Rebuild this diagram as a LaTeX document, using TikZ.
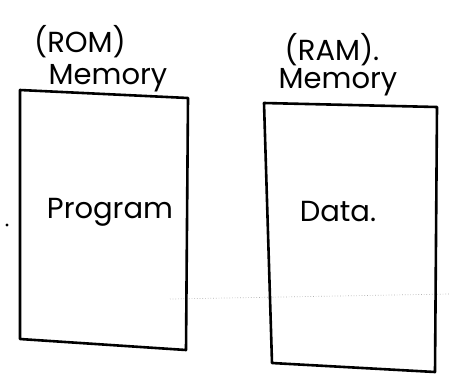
\documentclass[tikz,border=0pt]{standalone}
\usepackage{fontspec}
\setmainfont{Poppins}
\begin{document}
\begin{tikzpicture}[x=1pt,y=-1pt,
  lbl/.style={font=\fontsize{29}{32}\selectfont, inner sep=0pt, anchor=center},
  boxline/.style={line width=2.6pt, line join=round, line cap=round, black}]
\useasboundingbox (0,0) rectangle (449,381);
\fill[white] (0,0) rectangle (449,381);
% scan artefact dotted line
\draw[gray!60, line width=0.7pt, dotted] (170,299) -- (449,294);
% left box (ROM)
\coordinate (a1) at (20,90);
\coordinate (a2) at (188,98);
\coordinate (a3) at (186,350);
\coordinate (a4) at (20,339);
\draw[boxline] (a1) -- (a2) -- (a3) -- (a4) -- cycle;
% right box (RAM)
\coordinate (b1) at (264,103);
\coordinate (b2) at (437,107);
\coordinate (b3) at (435,372);
\coordinate (b4) at (272,363);
\draw[boxline] (b1) -- (b2) -- (b3) -- (b4) -- cycle;
% labels
\node[lbl] (rom) at (80,42) {(ROM)};
\node[lbl] (mem1) at (108,78) {Memory};
\node[lbl] (ram) at (332,50) {(RAM).};
\node[lbl] (mem2) at (338,82) {Memory};
\node[lbl] (prog) at (110,212) {Program};
\node[lbl] (data) at (338,212) {Data.};
\fill (7,225) circle (1.6pt);
\end{tikzpicture}
\end{document}
